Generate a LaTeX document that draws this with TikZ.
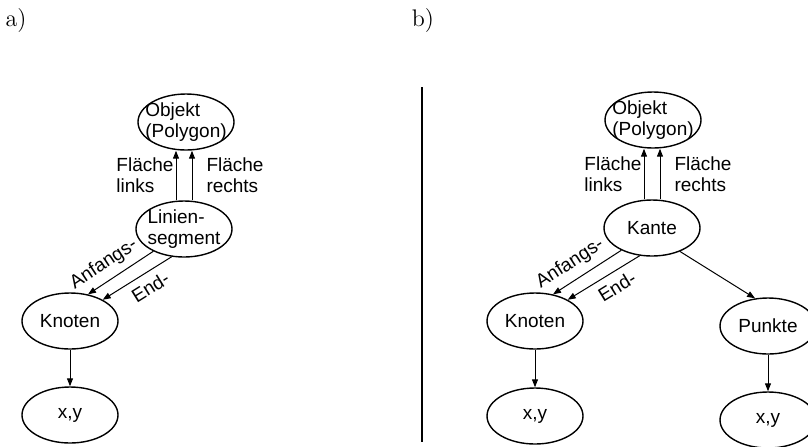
\documentclass[tikz,border=0pt]{standalone}
\usepackage{fontspec}
\setsansfont{Liberation Sans}
\usetikzlibrary{shapes.geometric,arrows.meta}

\tikzset{
  txt/.style={font=\sffamily\fontsize{9.5}{10.5}\selectfont, align=left, inner sep=1pt},
  obj/.style={draw, ellipse, line width=0.7pt, minimum width=48pt, minimum height=28pt,
    inner sep=0pt, label={[txt]center:#1}},
  pfeil/.style={-{Triangle[length=4pt,width=3pt]}, line width=0.5pt},
}

\begin{document}
\begin{tikzpicture}[x=0.5pt,y=-0.5pt]
  \useasboundingbox (0,0) rectangle (808,446);

  % a) Liniensegment-Modell
  \node[font=\large] (capA) at (16,21) {a)};
  \node[obj={Objekt\\(Polygon)}] (objA) at (186,122) {};
  \node[obj={Linien-\\segment}] (segA) at (184,229) {};
  \node[obj={Knoten}] (knA) at (70,321) {};
  \node[obj={x,y}] (xyA) at (70,415) {};
  \begin{scope}[pfeil]
    \draw ([xshift=-4pt]segA.north) -- node[txt, left] {Fl\"ache\\links}
      ([xshift=-4pt]segA.north |- objA.south);
    \draw ([xshift=4pt]segA.north) -- node[txt, right=6pt] {Fl\"ache\\rechts}
      ([xshift=4pt]segA.north |- objA.south);
    \draw (segA.216) -- node[txt, sloped, above=2.5pt, pos=0.62] {Anfangs-} (knA.56);
    \draw (segA.246) -- node[txt, sloped, below=2.5pt, pos=0.42] {End-} (knA.33);
    \draw (knA) -- (xyA);
  \end{scope}

  \draw[line width=0.9pt] (422,87) -- (422,442);

  % b) Kanten-Modell
  \node[font=\large] (capB) at (423,21) {b)};
  \node[obj={Objekt\\(Polygon)}] (objB) at (653,120) {};
  \node[obj={Kante}] (kaB) at (652,228) {};
  \node[obj={Knoten}] (knB) at (535,321) {};
  \node[obj={x,y}] (xyB) at (535,416) {};
  \node[obj={Punkte}] (ptB) at (768,326) {};
  \node[obj={x,y}] (xyC) at (768,420) {};
  \begin{scope}[pfeil]
    \draw ([xshift=-4pt]kaB.north) -- node[txt, left] {Fl\"ache\\links}
      ([xshift=-4pt]kaB.north |- objB.south);
    \draw ([xshift=4pt]kaB.north) -- node[txt, right=6pt] {Fl\"ache\\rechts}
      ([xshift=4pt]kaB.north |- objB.south);
    \draw (kaB.216) -- node[txt, sloped, above=2.5pt, pos=0.62] {Anfangs-} (knB.56);
    \draw (kaB.246) -- node[txt, sloped, below=2.5pt, pos=0.42] {End-} (knB.33);
    \draw (kaB.320) -- (ptB.115);
    \draw (knB) -- (xyB);
    \draw (ptB) -- (xyC);
  \end{scope}
\end{tikzpicture}
\end{document}
